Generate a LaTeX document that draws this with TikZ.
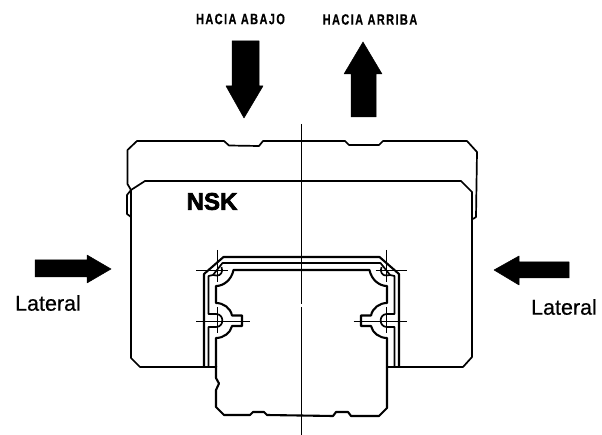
\documentclass[tikz,border=0pt]{standalone}
\usepackage{fontspec}
\setmainfont{Liberation Sans}
\newfontfamily\logofont[UprightFont={* Bold},FakeBold=3]{Liberation Sans}
\newfontfamily\sidefont[FakeBold=0.5]{Liberation Sans}
\newfontfamily\loadfont[UprightFont={* Bold},FakeBold=0.5,LetterSpace=13]{Liberation Sans}
\tikzset{%
  part line/.style={
    draw,
    line width=1.7pt,
    line join=round
  },
  rail line/.style={
    part line,
    line width=2.1pt
  },
  center line/.style={
    draw,
    line width=0.8pt
  },
  load arrow/.style={
    fill=black,
    draw=black,
    line width=0.5pt,
    line join=round
  },
  load label/.style={
    font=\loadfont\fontsize{15}{16}\selectfont,
    xscale=0.73,
    inner sep=0pt
  },
  side label/.style={
    font=\sidefont\fontsize{21.5}{24}\selectfont,
    inner sep=0pt
  },
}

\begin{document}
\begin{tikzpicture}[x=1pt,y=-1pt]
\useasboundingbox (0,0) rectangle (602,435);

% carriage
\path [part line] (131,190) -- (127.5,184) -- (127.5,150) -- (137,141) -- (224,141)
  -- (229,145.5) -- (259,146) -- (263,141) -- (345,141) -- (349,145) -- (379,145)
  -- (383,141) -- (467,141) -- (477,152) -- (476,217) -- (473,219);
\path [part line] (131,190) -- (127,195) -- (127,214) -- (131,217);
\path [part line] (204,367) -- (140,367) -- (131,358) -- (131,190) -- (145,181)
  -- (461,181) -- (472,192) -- (472,357) -- (463,367) -- (399,367);

% rail foot
\path [rail line] (216,366) -- (216,378) -- (219,383.5) -- (216,390) -- (216,407)
  -- (224,415) -- (250,415) -- (253,412) -- (264,412) -- (267,415) -- (333,416)
  -- (336,412) -- (348,412) -- (351,416) -- (379,416) -- (387,408) -- (387,367);

% both halves of the rail head and the seal
\foreach \s in {-1,1} {
  \begin{scope}[shift={(301.5,0)},xscale=\s]
    \path [rail line] (0,257) -- (78,257) -- (97.5,274) -- (97.5,367);
    \path [part line] (0,263) -- (79,263) -- (88.5,275) -- (93,276) -- (93,314)
      -- (85.5,314) .. controls (77,314) and (77,327) .. (85.5,327)
      -- (93,327) -- (93,367);
    \path [rail line] (0,270) -- (68,270) .. controls (70,280) and (78,286) .. (85.5,286)
      -- (85.5,303) .. controls (78,303) and (71,308) .. (69.5,315.5)
      -- (59.5,315.5) -- (59.5,326) -- (69.5,326)
      .. controls (71,333) and (78,338) .. (85.5,338) -- (85.5,367);
    \path [part line] (80,267) .. controls (78,272) and (81,276) .. (85,275.5)
      .. controls (86.5,275.5) and (87.5,275) .. (88.5,275);
    \path [rail line] (85.5,367) -- (97.5,367);
    % centers of the ball grooves
    \path [center line] (74,270) -- (105.5,270);
    \path [center line] (52,321) -- (105.5,321);
    \path [center line] (84.5,250) -- (84.5,282);
    \path [center line] (84.5,307) -- (84.5,333);
  \end{scope}
}

\path [center line] (301.5,124) -- (301.5,304) (301.5,307) -- (301.5,435);

% loads
\path [load arrow] (232,41) -- (259,41) -- (259,86) -- (263,86) -- (244,118)
  -- (226,86) -- (232,86) -- cycle;
\path [load arrow] (363,42) -- (382,74) -- (376,74) -- (376,117) -- (351,117)
  -- (351,74) -- (344,74) -- cycle;
\path [load arrow] (35,260) -- (87,260) -- (87,255) -- (111,269) -- (87,283)
  -- (87,277) -- (35,277) -- cycle;
\path [load arrow] (569,262) -- (519,262) -- (519,256) -- (494,270) -- (519,285)
  -- (519,278) -- (569,278) -- cycle;

\node [load label] (down-label) at (240.5,19) {HACIA ABAJO};
\node [load label] (up-label) at (370,19.5) {HACIA ARRIBA};
\node [side label] (left-label) at (48,303) {Lateral};
\node [side label] (right-label) at (564,307) {Lateral};
\node [inner sep=0pt, font=\logofont\fontsize{24}{26}\selectfont] (brand) at (212,201.5) {NSK};

\end{tikzpicture}
\end{document}
